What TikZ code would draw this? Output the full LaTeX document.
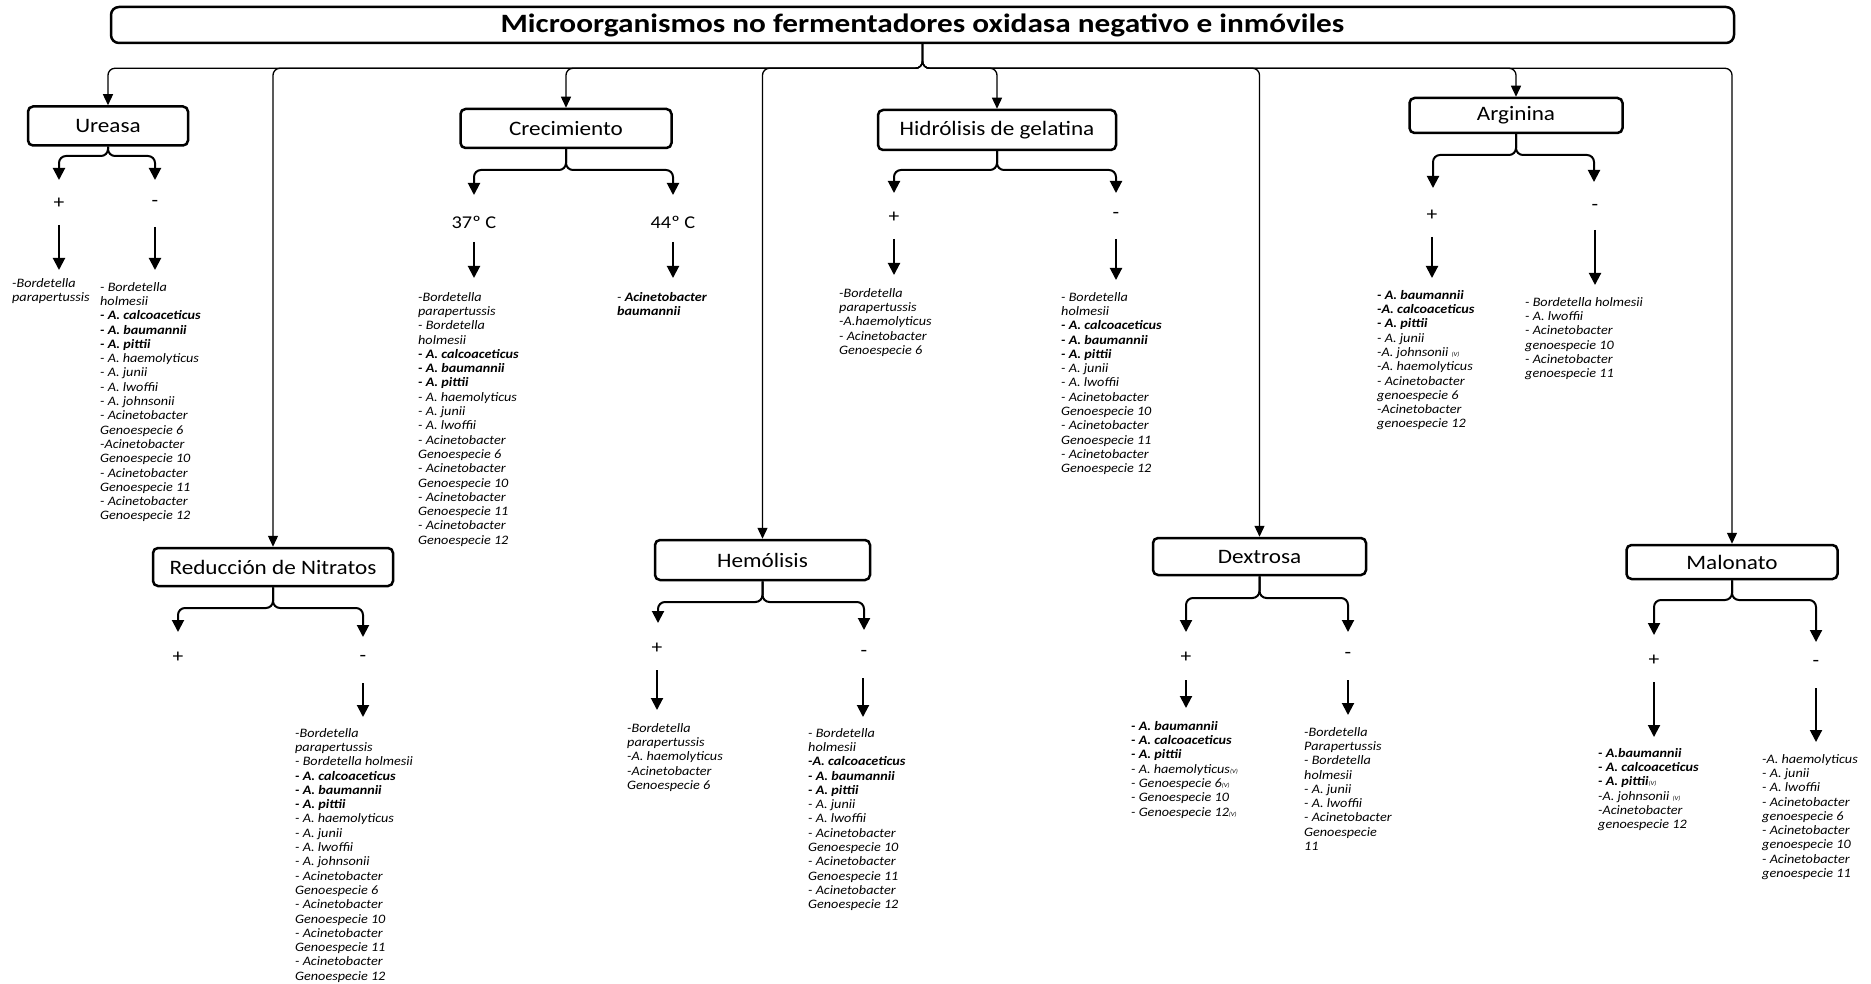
\documentclass[tikz,border=0pt]{standalone}
\usepackage{fontspec}
\setmainfont{Carlito}
\newfontfamily\titlefont[FakeStretch=1.18]{Carlito}
\newfontfamily\boxfont[FakeStretch=1.13]{Carlito}
\newfontfamily\listfont[FakeStretch=1.1]{Carlito}
\usetikzlibrary{arrows.meta}
\newcommand{\bi}[1]{\textbf{#1}}
\newcommand{\vv}{{\fontsize{6}{6}\selectfont (V)}}

\begin{document}
\begin{tikzpicture}[x=1pt,y=-1pt,
  trunk/.style={line width=1.3pt, rounded corners=7pt, -{Triangle[width=10pt,length=11pt]}},
  fork/.style={line width=2pt, rounded corners=7pt, -{Triangle[width=12pt,length=12pt]}},
  arr/.style={line width=2pt, -{Triangle[width=12pt,length=12pt]}},
  testbox/.style={draw, line width=2.5pt, rounded corners=5pt, inner sep=0pt,
    font=\boxfont\fontsize{20.5}{24}\selectfont},
  titlebox/.style={draw, line width=2.5pt, rounded corners=8pt, inner sep=0pt,
    font=\titlefont\bfseries\fontsize{26.5}{30}\selectfont},
  sign/.style={inner sep=0pt, font=\boxfont\fontsize{19}{20}\selectfont},
  temp/.style={inner sep=0pt, font=\boxfont\fontsize{18}{20}\selectfont},
  taxa/.style={anchor=north west, align=left, inner sep=0pt,
    font=\listfont\itshape\fontsize{12.9}{14.3}\selectfont}]

\useasboundingbox (0,0) rectangle (1871,984);

% title
\node[titlebox, minimum width=1623pt, minimum height=36pt] (title) at (922.5,25)
  {Microorganismos no fermentadores oxidasa negativo e inmóviles};

% test boxes
\node[testbox, minimum width=160pt, minimum height=39pt] (ure) at (108,126) {Ureasa};
\node[testbox, minimum width=211pt, minimum height=39pt] (cre) at (566,128.5) {Crecimiento};
\node[testbox, minimum width=238pt, minimum height=40pt] (hid) at (997,130) {Hidrólisis de gelatina};
\node[testbox, minimum width=213pt, minimum height=35pt] (arg) at (1516,115.5) {Arginina};
\node[testbox, minimum width=240pt, minimum height=38pt] (red) at (273,567) {Reducción de Nitratos};
\node[testbox, minimum width=215pt, minimum height=40pt] (hem) at (762.5,560) {Hemólisis};
\node[testbox, minimum width=213pt, minimum height=37pt] (dex) at (1259.5,556.5) {Dextrosa};
\node[testbox, minimum width=211pt, minimum height=34pt] (mal) at (1732,562) {Malonato};

% connectors from the title to every test
\foreach \b in {ure,red,cre,hem,hid,dex,arg,mal}
  \draw[trunk] (title.south) -- ++(0,24) -| (\b.north);

% result labels
\node[sign] (ureP) at (59,203) {+};
\node[sign] (ureM) at (155,203) {-};
\node[temp] (creA) at (474,222) {37º C};
\node[temp] (creB) at (673,222) {44º C};
\node[sign] (hidP) at (894,217) {+};
\node[sign] (hidM) at (1116,215) {-};
\node[sign] (argP) at (1432,215) {+};
\node[sign] (argM) at (1595,207) {-};
\node[sign] (redP) at (178,657) {+};
\node[sign] (redM) at (363,658) {-};
\node[sign] (hemP) at (657,648) {+};
\node[sign] (hemM) at (864,653) {-};
\node[sign] (dexP) at (1186,657) {+};
\node[sign] (dexM) at (1348,655) {-};
\node[sign] (malP) at (1654,660) {+};
\node[sign] (malM) at (1816,663) {-};

% fork levels and arrow ends
\coordinate (ureK) at (0,156);  \coordinate (ureFL) at (59,180);   \coordinate (ureFR) at (155,180);
\coordinate (creK) at (0,170);  \coordinate (creFL) at (474,195);  \coordinate (creFR) at (673,195);
\coordinate (hidK) at (0,170);  \coordinate (hidFL) at (894,193);  \coordinate (hidFR) at (1116,193);
\coordinate (argK) at (0,155);  \coordinate (argFL) at (1433,188); \coordinate (argFR) at (1594,182);
\coordinate (redK) at (0,608);  \coordinate (redFL) at (178,632);  \coordinate (redFR) at (363,637);
\coordinate (hemK) at (0,602);  \coordinate (hemFL) at (658,623);  \coordinate (hemFR) at (864,630);
\coordinate (dexK) at (0,598);  \coordinate (dexFL) at (1186,632); \coordinate (dexFR) at (1348,632);
\coordinate (malK) at (0,600);  \coordinate (malFL) at (1654,635); \coordinate (malFR) at (1816,642);

\foreach \b in {ure,cre,hid,arg,red,hem,dex,mal}{
  \draw[fork] (\b.south) -- (\b.south |- \b K) -| (\b FL);
  \draw[fork] (\b.south) -- (\b.south |- \b K) -| (\b FR);
}

% arrows from results to organism lists
\coordinate (a1s) at (59,225);   \coordinate (a1e) at (59,270);
\coordinate (a2s) at (155,227);  \coordinate (a2e) at (155,270);
\coordinate (a3s) at (474,242);  \coordinate (a3e) at (474,278);
\coordinate (a4s) at (673,242);  \coordinate (a4e) at (673,278);
\coordinate (a5s) at (894,239);  \coordinate (a5e) at (894,275);
\coordinate (a6s) at (1116,239); \coordinate (a6e) at (1116,280);
\coordinate (a7s) at (1432,237); \coordinate (a7e) at (1432,278);
\coordinate (a8s) at (1595,230); \coordinate (a8e) at (1595,285);
\coordinate (a9s) at (363,683);  \coordinate (a9e) at (363,717);
\coordinate (a10s) at (657,670); \coordinate (a10e) at (657,710);
\coordinate (a11s) at (863,678); \coordinate (a11e) at (863,717);
\coordinate (a12s) at (1186,680);\coordinate (a12e) at (1186,708);
\coordinate (a13s) at (1348,680);\coordinate (a13e) at (1348,715);
\coordinate (a14s) at (1654,682);\coordinate (a14e) at (1654,737);
\coordinate (a15s) at (1816,688);\coordinate (a15e) at (1816,742);
\foreach \i in {1,...,15}
  \draw[arr] (a\i s) -- (a\i e);

% organism lists
\node[taxa] (ureLP) at (12,278) {-Bordetella\\parapertussis};
\node[taxa] (ureLM) at (100,282) {- Bordetella\\holmesii\\\bi{- A. calcoaceticus}\\\bi{- A. baumannii}\\\bi{- A. pittii}\\- A. haemolyticus\\- A. junii\\- A. lwoffii\\- A. johnsonii\\- Acinetobacter\\Genoespecie 6\\-Acinetobacter\\Genoespecie 10\\- Acinetobacter\\Genoespecie 11\\- Acinetobacter\\Genoespecie 12};

\node[taxa] (creLA) at (418,292) {-Bordetella\\parapertussis\\- Bordetella\\holmesii\\\bi{- A. calcoaceticus}\\\bi{- A. baumannii}\\\bi{- A. pittii}\\- A. haemolyticus\\- A. junii\\- A. lwoffii\\- Acinetobacter\\Genoespecie 6\\- Acinetobacter\\Genoespecie 10\\- Acinetobacter\\Genoespecie 11\\- Acinetobacter\\Genoespecie 12};
\node[taxa] (creLB) at (617,292) {- \bi{Acinetobacter}\\\bi{baumannii}};

\node[taxa] (hidLP) at (839,288) {-Bordetella\\parapertussis\\-A.haemolyticus\\- Acinetobacter\\Genoespecie 6};
\node[taxa] (hidLM) at (1061,292) {- Bordetella\\holmesii\\\bi{- A. calcoaceticus}\\\bi{- A. baumannii}\\\bi{- A. pittii}\\- A. junii\\- A. lwoffii\\- Acinetobacter\\Genoespecie 10\\- Acinetobacter\\Genoespecie 11\\- Acinetobacter\\Genoespecie 12};

\node[taxa] (argLP) at (1377,290) {\bi{- A. baumannii}\\\bi{-A. calcoaceticus}\\\bi{- A. pittii}\\- A. junii\\-A. johnsonii \vv\\-A. haemolyticus\\- Acinetobacter\\genoespecie 6\\-Acinetobacter\\genoespecie 12};
\node[taxa] (argLM) at (1525,297) {- Bordetella holmesii\\- A. lwoffii\\- Acinetobacter\\genoespecie 10\\- Acinetobacter\\genoespecie 11};

\node[taxa] (redLM) at (295,728) {-Bordetella\\parapertussis\\- Bordetella holmesii\\\bi{- A. calcoaceticus}\\\bi{- A. baumannii}\\\bi{- A. pittii}\\- A. haemolyticus\\- A. junii\\- A. lwoffii\\- A. johnsonii\\- Acinetobacter\\Genoespecie 6\\- Acinetobacter\\Genoespecie 10\\- Acinetobacter\\Genoespecie 11\\- Acinetobacter\\Genoespecie 12};

\node[taxa] (hemLP) at (627,723) {-Bordetella\\parapertussis\\-A. haemolyticus\\-Acinetobacter\\Genoespecie 6};
\node[taxa] (hemLM) at (808,728) {- Bordetella\\holmesii\\\bi{-A. calcoaceticus}\\\bi{- A. baumannii}\\\bi{- A. pittii}\\- A. junii\\- A. lwoffii\\- Acinetobacter\\Genoespecie 10\\- Acinetobacter\\Genoespecie 11\\- Acinetobacter\\Genoespecie 12};

\node[taxa] (dexLP) at (1131,721) {\bi{- A. baumannii}\\\bi{- A. calcoaceticus}\\\bi{- A. pittii}\\- A. haemolyticus\vv\\- Genoespecie 6\vv\\- Genoespecie 10\\- Genoespecie 12\vv};
\node[taxa] (dexLM) at (1304,727) {-Bordetella\\Parapertussis\\- Bordetella\\holmesii\\- A. junii\\- A. lwoffii\\- Acinetobacter\\Genoespecie\\11};

\node[taxa] (malLP) at (1598,748) {\bi{- A.baumannii}\\\bi{- A. calcoaceticus}\\\bi{- A. pittii}\vv\\-A. johnsonii \vv\\-Acinetobacter\\genoespecie 12};
\node[taxa] (malLM) at (1762,754) {-A. haemolyticus\\- A. junii\\- A. lwoffii\\- Acinetobacter\\genoespecie 6\\- Acinetobacter\\genoespecie 10\\- Acinetobacter\\genoespecie 11};

\end{tikzpicture}
\end{document}
